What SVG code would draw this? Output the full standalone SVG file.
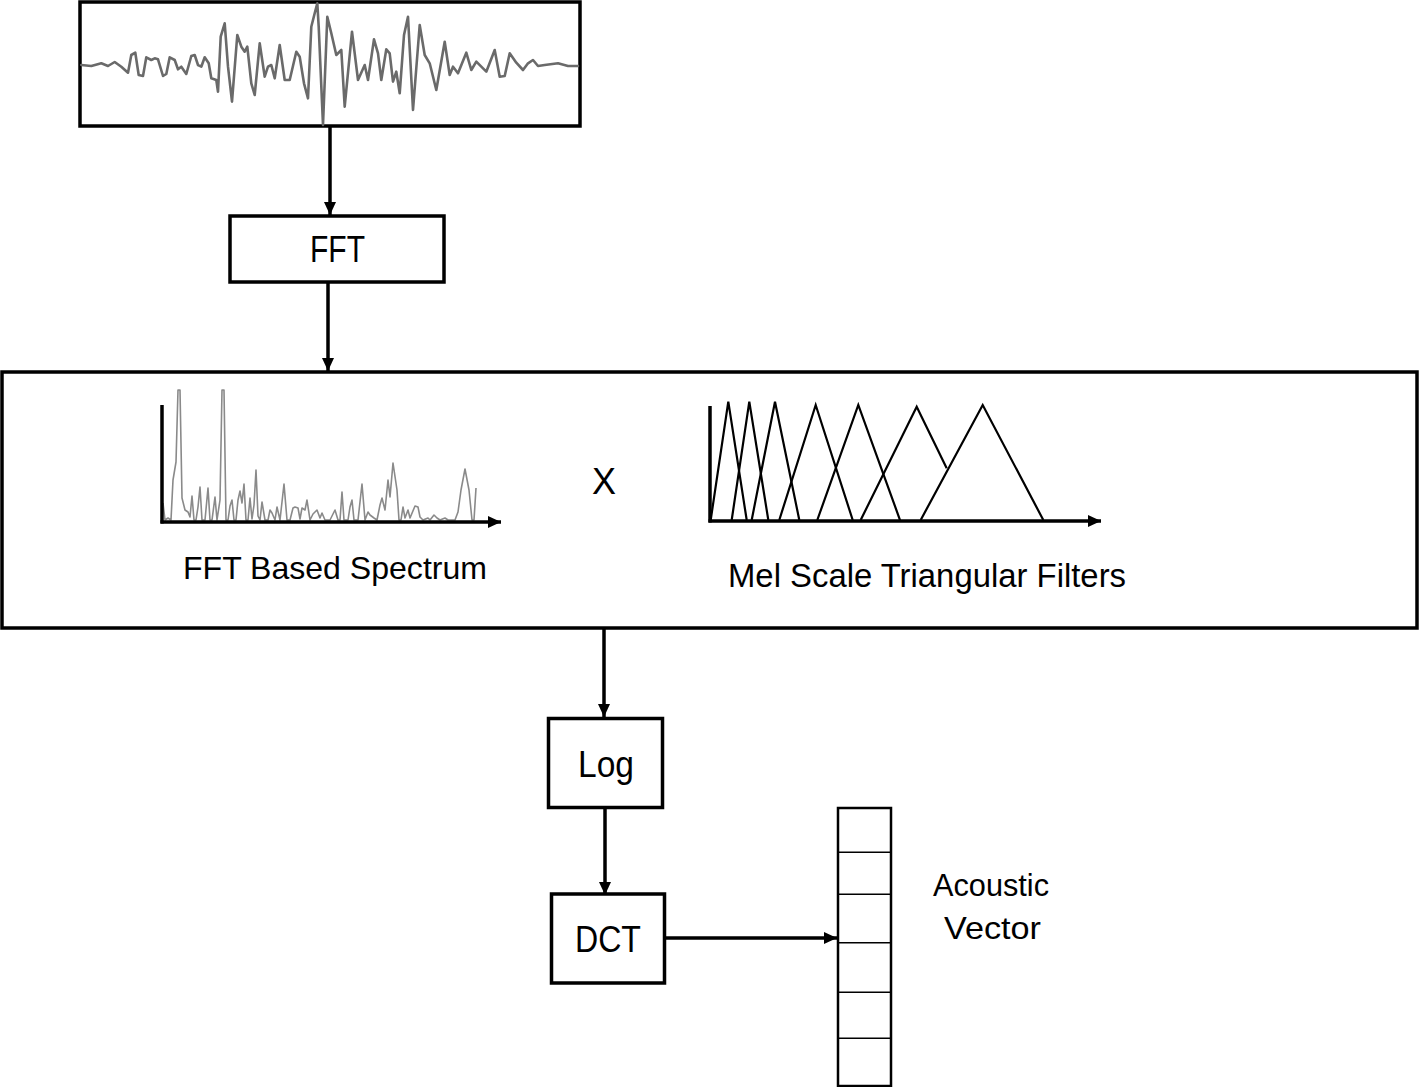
<svg xmlns="http://www.w3.org/2000/svg" width="1419" height="1087" viewBox="0 0 1419 1087">
<style>
.box{fill:#fff;stroke:#000;stroke-width:3.5}
.conn{stroke:#000;stroke-width:3.5;fill:none}
.axis{stroke:#000;stroke-width:3.5;fill:none}
.lbl{font-family:"Liberation Sans",Arial,sans-serif;fill:#000}
.wave{fill:none;stroke:#6a6a6a;stroke-width:2.6;stroke-linejoin:round;stroke-linecap:round}
.spec{fill:none;stroke:#8a8a8a;stroke-width:1.6;stroke-linejoin:round}
.tri{fill:none;stroke:#000;stroke-width:2.2}
.cell{stroke:#000;stroke-width:1.5}
</style>
<defs>
<marker id="ah" markerUnits="userSpaceOnUse" markerWidth="16" markerHeight="14" refX="13" refY="6" orient="auto">
<path d="M0,0 L13,6 L0,12 z" fill="#000"/>
</marker>
</defs>
<rect width="1419" height="1087" fill="#fff"/>

<g id="waveform">
<rect class="box" x="80" y="2" width="500" height="124"/>
<polyline class="wave" points="81.3,65 91.3,66 101.3,63.3 108,66 114.7,62 121.3,66.7 128,72.7 131.3,55 135.3,52.7 138.7,75 143,76 146.3,57.3 151.3,60 154.7,58.3 158,59.3 163,76 166.3,74 169.7,57.3 174.7,60 178,69.3 181.3,66.7 186.3,74 191.3,56 194.7,55 198,65 201.3,66.7 204.7,57.3 208.7,63.3 211.3,78.3 216.3,80 218,91.7 220.7,36.7 224.7,23.3 228,66.7 232,101.7 237.3,35 241.3,46.7 244.7,51.7 247.3,46.7 251.3,83.3 254.7,95 259.7,43.3 264.7,76.7 268,66.7 271.3,65 274.7,78.3 279.7,45 284.7,80 289.7,80 296.3,51.7 299.7,56.7 304,83.3 308,98.3 311.3,26.7 314.7,13.3 317.3,3.3 318.7,26.7 323,125 327.3,16.7 331.3,33.3 336.3,55 341.3,50 344.7,106.7 352,31.7 358,80 364.7,65 368,80 374,39.3 378,53.3 381.3,80 386.3,49.3 389.7,53.3 393,81.7 396.3,71.7 399.7,93.3 404,35 408,16.7 413,110 419.7,25 424.7,55 429.7,63.3 436.3,90 444.7,41.7 449.7,75 453,66.7 458,73.3 466.3,52.7 471.3,70 476.3,61.7 481.3,66.7 486.3,71.7 494.7,50 499.7,76.7 504.7,76 509.7,53.3 516.3,62.7 523,70 528,63.3 533,60 538,66 544.7,65 558,63.3 568,66 578,66"/>
</g>

<g id="fft">
<rect class="box" x="230" y="216" width="214" height="66"/>
<text class="lbl" x="310" y="262" font-size="36" textLength="55" lengthAdjust="spacingAndGlyphs">FFT</text>
</g>

<g id="filterbank">
<rect class="box" x="2" y="372" width="1415" height="256"/>
<g id="spectrum">
<polyline class="spec" points="163,503 165,520 168,518 171,520 173,480 176,462 178,390 180,390 182,498 185,510 188,512 190,517 192,496 194,520 196,520 198,507 200,487 202,520 205,520 208,488 210,520 212,520 215,497 217,520 220,500 222,390 224,390 226,520 228,520 230,506 232,500 234,520 236,520 238,500 240,491 242,503 244,484 246,520 248,520 250,498 252,519 254,505 256,470 258,516 260,520 262,502 263,508 265,520 268,520 270,510 272,513 275,520 277,507 280,520 284,484 287,520 290,520 293,508 295,507 298,508 300,519 302,508 305,510 307,500 310,520 313,514 317,510 320,518 322,513 325,520 330,520 335,510 338,520 340,520 342,492 344,520 348,520 350,507 352,500 354,520 358,520 362,484 365,520 368,512 370,515 374,518 377,520 380,505 382,498 385,510 388,480 390,497 393,463 397,490 399,520 401,520 403,507 405,518 408,510 410,518 415,506 418,507 420,517 423,520 428,518 430,520 434,515 437,518 440,520 445,518 448,520 455,520 458,512 461,490 465,469 469,490 472,520 474,520 476,488"/>
<line class="axis" x1="162" y1="405" x2="162" y2="523.5"/>
<line class="axis" x1="160.5" y1="522" x2="501" y2="522" marker-end="url(#ah)"/>
<text class="lbl" x="183" y="579" font-size="32" textLength="304" lengthAdjust="spacingAndGlyphs">FFT Based Spectrum</text>
</g>
<text class="lbl" x="592" y="494" font-size="36" textLength="24" lengthAdjust="spacingAndGlyphs">X</text>
<g id="melfilters">
<polyline class="tri" points="710.7,520 728.3,401.7 746.7,520"/>
<polyline class="tri" points="731.7,520 749.3,401.7 768.3,520"/>
<polyline class="tri" points="751.7,520 775,401.7 799.3,520"/>
<polyline class="tri" points="779.3,520 815.7,405 852.7,520"/>
<polyline class="tri" points="817.3,520 858.3,405 900,520"/>
<polyline class="tri" points="860.7,520 916.7,406.7 946.7,468.3"/>
<polyline class="tri" points="920.7,520 982.7,405 1043.3,520"/>
<line class="axis" x1="710" y1="406" x2="710" y2="522.5"/>
<line class="axis" x1="708.5" y1="521" x2="1101" y2="521" marker-end="url(#ah)"/>
<text class="lbl" x="728" y="587" font-size="33" textLength="398" lengthAdjust="spacingAndGlyphs">Mel Scale Triangular Filters</text>
</g>
</g>

<g id="log">
<rect class="box" x="548.5" y="718.5" width="114" height="89"/>
<text class="lbl" x="578" y="777" font-size="36" textLength="56" lengthAdjust="spacingAndGlyphs">Log</text>
</g>

<g id="dct">
<rect class="box" x="551.5" y="894" width="113" height="89"/>
<text class="lbl" x="575" y="951.5" font-size="36" textLength="66" lengthAdjust="spacingAndGlyphs">DCT</text>
</g>

<g id="vector">
<rect x="838" y="808" width="53" height="278" fill="#fff" stroke="#000" stroke-width="2.5"/>
<line class="cell" x1="838" y1="852.3" x2="891" y2="852.3"/>
<line class="cell" x1="838" y1="894.3" x2="891" y2="894.3"/>
<line class="cell" x1="838" y1="942.7" x2="891" y2="942.7"/>
<line class="cell" x1="838" y1="992.3" x2="891" y2="992.3"/>
<line class="cell" x1="838" y1="1038.3" x2="891" y2="1038.3"/>
</g>

<g id="vector-label">
<text class="lbl" x="933" y="895.5" font-size="32" textLength="116" lengthAdjust="spacingAndGlyphs">Acoustic</text>
<text class="lbl" x="944" y="938.5" font-size="32" textLength="97" lengthAdjust="spacingAndGlyphs">Vector</text>
</g>

<g id="connectors">
<line class="conn" x1="330" y1="127" x2="330" y2="215" marker-end="url(#ah)"/>
<line class="conn" x1="328" y1="283" x2="328" y2="371" marker-end="url(#ah)"/>
<line class="conn" x1="604" y1="629" x2="604" y2="717" marker-end="url(#ah)"/>
<line class="conn" x1="605" y1="809" x2="605" y2="895" marker-end="url(#ah)"/>
<line class="conn" x1="666" y1="938" x2="837" y2="938" marker-end="url(#ah)"/>
</g>
</svg>
